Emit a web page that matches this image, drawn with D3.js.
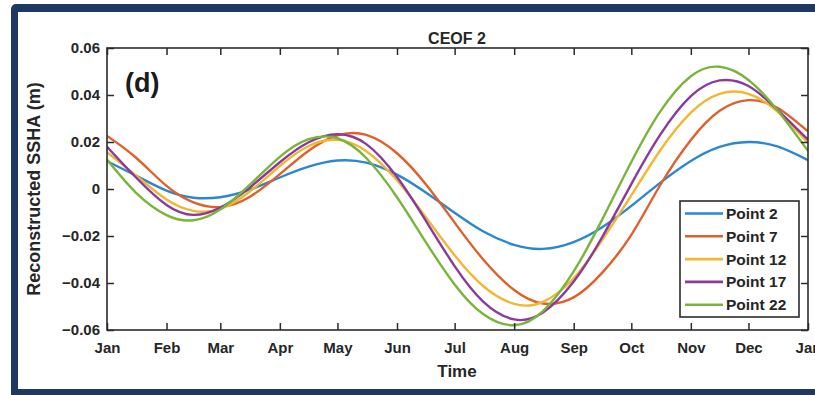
<!DOCTYPE html>
<html>
<head>
<meta charset="utf-8">
<script src="https://cdn.jsdelivr.net/npm/d3@7"></script>
<style>
  html, body { margin: 0; padding: 0; background: #ffffff; }
  svg { display: block; }
  text { font-family: "Liberation Sans", Arial, sans-serif; }
</style>
</head>
<body>
<div id="chart"></div>
<script>
// ---------- data ----------
const days = [0, 15, 31, 45, 59, 74, 90, 105, 120, 135, 151, 166, 181, 196, 212, 227, 243, 258, 273, 288, 304, 319, 334, 349, 365];

const point2  = [0.0118, 0.0057, -0.0007, -0.0037, -0.0035, -0.0004, 0.0049, 0.0095, 0.0121, 0.0112, 0.0061, -0.0015, -0.0101, -0.0181, -0.0238, -0.0255, -0.0226, -0.0162, -0.0072, 0.0026, 0.0119, 0.0179, 0.0200, 0.0181, 0.0123];
const point7  = [0.0226, 0.0134, 0.0013, -0.0057, -0.0077, -0.0035, 0.0063, 0.0163, 0.0228, 0.0230, 0.0152, 0.0020, -0.0143, -0.0301, -0.0430, -0.0487, -0.0461, -0.0355, -0.0195, 0.0016, 0.0209, 0.0333, 0.0378, 0.0346, 0.0245];
const point12 = [0.0157, 0.0058, -0.0045, -0.0093, -0.0085, -0.0013, 0.0098, 0.0183, 0.0209, 0.0161, 0.0037, -0.0120, -0.0282, -0.0414, -0.0489, -0.0480, -0.0380, -0.0215, -0.0027, 0.0164, 0.0325, 0.0405, 0.0405, 0.0330, 0.0196];
const point17 = [0.0180, 0.0050, -0.0068, -0.0110, -0.0079, 0.0004, 0.0114, 0.0199, 0.0233, 0.0191, 0.0051, -0.0135, -0.0328, -0.0480, -0.0555, -0.0526, -0.0394, -0.0202, 0.0021, 0.0230, 0.0395, 0.0462, 0.0438, 0.0338, 0.0210];
const point22 = [0.0125, -0.0015, -0.0111, -0.0133, -0.0087, 0.0015, 0.0137, 0.0212, 0.0216, 0.0132, -0.0035, -0.0226, -0.0406, -0.0533, -0.0580, -0.0520, -0.0351, -0.0127, 0.0115, 0.0329, 0.0480, 0.0520, 0.0464, 0.0336, 0.0162];

const seriesNames = ["Point 2", "Point 7", "Point 12", "Point 17", "Point 22"];
const seriesValues = [point2, point7, point12, point17, point22];
const seriesColors = ["#2a87d0", "#e0602a", "#f2b632", "#8a3a9c", "#79b53a"];

const monthTickDays = [0, 31, 59, 90, 120, 151, 181, 212, 243, 273, 304, 334, 365];
const monthLabels = ["Jan", "Feb", "Mar", "Apr", "May", "Jun", "Jul", "Aug", "Sep", "Oct", "Nov", "Dec", "Jan"];
const yTicks = [-0.06, -0.04, -0.02, 0, 0.02, 0.04, 0.06];
const yTickLabels = ["\u22120.06", "\u22120.04", "\u22120.02", "0", "0.02", "0.04", "0.06"];

const titleText = "CEOF 2";
const xLabelText = "Time";
const yLabelText = "Reconstructed SSHA (m)";
const panelText = "(d)";

// ---------- layout ----------
const W = 815, H = 395;
const plot = { left: 107, right: 808, top: 48, bottom: 330 };
const axisColor = "#2b2b2b";
const textColor = "#262626";

const svg = d3.select("#chart").append("svg")
  .attr("width", W).attr("height", H);

svg.append("rect").attr("x", 0).attr("y", 0).attr("width", W).attr("height", H).attr("fill", "#ffffff");

// navy frame
svg.append("rect").attr("x", 11).attr("y", 4).attr("width", 840).attr("height", 410)
  .attr("rx", 5).attr("fill", "#1f3763");
svg.append("rect").attr("x", 18).attr("y", 12).attr("width", 830).attr("height", 377)
  .attr("fill", "#ffffff");

const x = d3.scaleLinear().domain([0, 365]).range([plot.left, plot.right]);
const y = d3.scaleLinear().domain([-0.06, 0.06]).range([plot.bottom, plot.top]);

// clip
svg.append("defs").append("clipPath").attr("id", "plotclip")
  .append("rect").attr("x", plot.left).attr("y", plot.top)
  .attr("width", plot.right - plot.left).attr("height", plot.bottom - plot.top);

// lines
const line = d3.line()
  .x((d, i) => x(days[i]))
  .y(d => y(d))
  .curve(d3.curveNatural);

const gLines = svg.append("g").attr("clip-path", "url(#plotclip)");
seriesValues.forEach((vals, k) => {
  gLines.append("path")
    .datum(vals)
    .attr("d", line)
    .attr("fill", "none")
    .attr("stroke", seriesColors[k])
    .attr("stroke-width", 2.4)
    .attr("stroke-linejoin", "round");
});

// axes
const tickLen = 7;
const fontTick = "bold 15px 'Liberation Sans', Arial, sans-serif";

const xAxisB = d3.axisBottom(x).tickValues(monthTickDays)
  .tickFormat((d, i) => monthLabels[i]).tickSizeInner(-tickLen).tickSizeOuter(0).tickPadding(12);
const xAxisT = d3.axisTop(x).tickValues(monthTickDays)
  .tickFormat("").tickSizeInner(-tickLen).tickSizeOuter(0);
const yAxisL = d3.axisLeft(y).tickValues(yTicks)
  .tickFormat((d, i) => yTickLabels[i]).tickSizeInner(-tickLen).tickSizeOuter(0).tickPadding(7);
const yAxisR = d3.axisRight(y).tickValues(yTicks)
  .tickFormat("").tickSizeInner(-tickLen).tickSizeOuter(0);

function styleAxis(g) {
  g.select(".domain").remove();
  g.selectAll(".tick line").attr("stroke", axisColor).attr("stroke-width", 1.5);
  g.selectAll(".tick text").attr("fill", textColor)
    .style("font", fontTick);
}

svg.append("g").attr("transform", `translate(0,${plot.bottom})`).call(xAxisB).call(styleAxis);
svg.append("g").attr("transform", `translate(0,${plot.top})`).call(xAxisT).call(styleAxis);
svg.append("g").attr("transform", `translate(${plot.left},0)`).call(yAxisL).call(styleAxis);
svg.append("g").attr("transform", `translate(${plot.right},0)`).call(yAxisR).call(styleAxis);

// box
svg.append("rect")
  .attr("x", plot.left).attr("y", plot.top)
  .attr("width", plot.right - plot.left).attr("height", plot.bottom - plot.top)
  .attr("fill", "none").attr("stroke", axisColor).attr("stroke-width", 1.6);

// title & labels
svg.append("text").attr("x", 457).attr("y", 44).attr("text-anchor", "middle")
  .attr("fill", textColor).style("font", "bold 16px 'Liberation Sans', Arial, sans-serif")
  .text(titleText);

svg.append("text").attr("x", 457).attr("y", 377).attr("text-anchor", "middle")
  .attr("fill", textColor).style("font", "bold 17px 'Liberation Sans', Arial, sans-serif")
  .text(xLabelText);

svg.append("text")
  .attr("transform", `translate(40,${(plot.top + plot.bottom) / 2}) rotate(-90)`)
  .attr("text-anchor", "middle")
  .attr("fill", textColor).style("font", "bold 18px 'Liberation Sans', Arial, sans-serif")
  .text(yLabelText);

svg.append("text").attr("x", 125).attr("y", 92)
  .attr("fill", "#1a1a1a").style("font", "bold 27px 'Liberation Sans', Arial, sans-serif")
  .text(panelText);

// legend
const leg = { x: 680, y: 201, w: 119, h: 116 };
const lg = svg.append("g");
lg.append("rect").attr("x", leg.x).attr("y", leg.y).attr("width", leg.w).attr("height", leg.h)
  .attr("fill", "#ffffff").attr("stroke", axisColor).attr("stroke-width", 1.6);
seriesNames.forEach((name, k) => {
  const cy = leg.y + 12.5 + k * 22.8;
  lg.append("line").attr("x1", leg.x + 5).attr("x2", leg.x + 43)
    .attr("y1", cy).attr("y2", cy)
    .attr("stroke", seriesColors[k]).attr("stroke-width", 2.6);
  lg.append("text").attr("x", leg.x + 46).attr("y", cy + 5.5)
    .attr("fill", textColor).style("font", "bold 15.5px 'Liberation Sans', Arial, sans-serif")
    .text(name);
});
</script>
</body>
</html>
